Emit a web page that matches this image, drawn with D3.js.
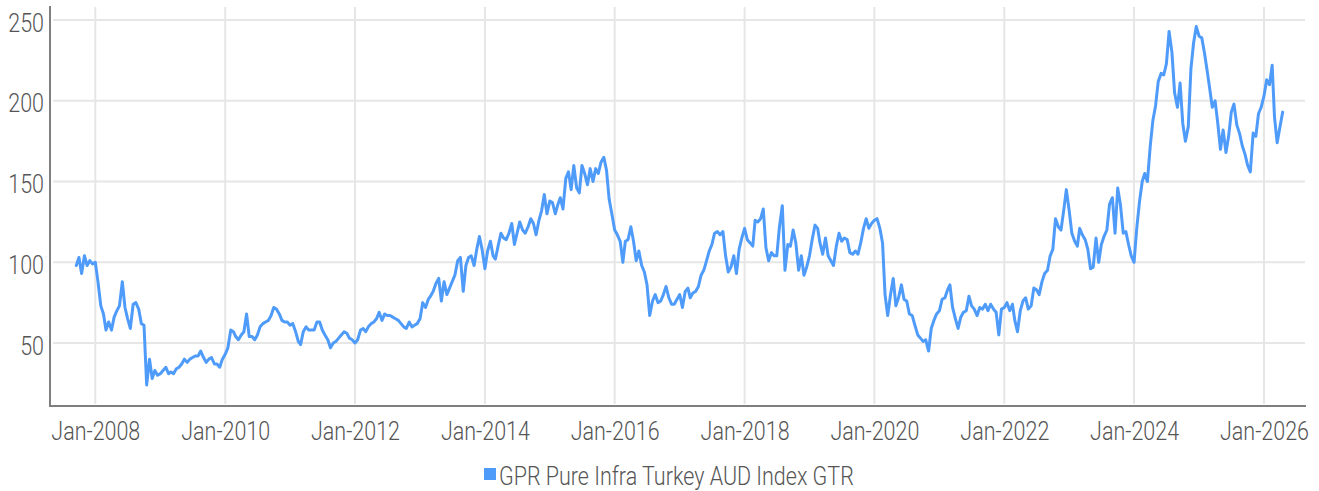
<!DOCTYPE html>
<html>
<head>
<meta charset="utf-8">
<script src="https://cdn.jsdelivr.net/npm/d3@7"></script>
<style>
  html, body { margin: 0; padding: 0; background: #ffffff; }
  svg { display: block; }
  text { font-family: Roboto, "Noto Sans", sans-serif; font-weight: 300; }
</style>
</head>
<body>
<svg id="chart" width="1319" height="491"></svg>
<script>
// ---------- DATA ----------
const seriesName = "GPR Pure Infra Turkey AUD Index GTR";
// first observation (half-monthly observations follow: 1st and 16th of each month)
const firstObservation = "2007-09-16";
const values = [
  98, 103, 93, 104, 98, 101, 99, 100, 88, 73,
  68, 58, 63, 58, 66, 70, 73, 88, 72, 65,
  59, 74, 75, 71, 62, 61, 24, 40, 28, 33,
  30, 31, 33, 35, 31, 32, 31, 34, 35, 37,
  40, 38, 40, 41, 42, 42, 45, 41, 38, 40,
  41, 37, 37, 35, 40, 43, 47, 58, 57, 54,
  52, 55, 57, 68, 54, 54, 52, 55, 60, 62,
  63, 64, 67, 72, 71, 68, 64, 63, 63, 61,
  62, 57, 51, 49, 57, 60, 58, 58, 58, 63,
  63, 58, 55, 52, 47, 50, 51, 53, 55, 57,
  56, 53, 52, 50, 52, 58, 59, 57, 60, 62,
  63, 65, 69, 64, 68, 67, 67, 66, 65, 64,
  62, 60, 59, 63, 60, 61, 62, 65, 75, 72,
  77, 79, 82, 87, 90, 76, 88, 80, 84, 88,
  92, 101, 103, 82, 98, 103, 104, 98, 108, 116,
  108, 96, 107, 113, 104, 102, 110, 118, 115, 114,
  118, 124, 111, 118, 125, 120, 118, 122, 127, 124,
  117, 126, 132, 142, 130, 138, 137, 130, 136, 140,
  133, 152, 156, 145, 160, 146, 143, 160, 155, 148,
  158, 150, 158, 155, 162, 165, 157, 139, 130, 120,
  117, 113, 100, 113, 114, 122, 113, 101, 107, 98,
  94, 86, 67, 76, 80, 75, 76, 80, 85, 78,
  74, 74, 77, 80, 72, 82, 84, 78, 81, 82,
  85, 92, 95, 101, 107, 111, 118, 119, 117, 119,
  104, 94, 97, 104, 93, 108, 115, 121, 114, 112,
  110, 126, 125, 127, 133, 109, 101, 106, 104, 104,
  122, 135, 95, 111, 110, 120, 112, 95, 104, 92,
  97, 104, 114, 123, 121, 112, 105, 115, 104, 101,
  98, 110, 118, 113, 115, 114, 106, 105, 107, 105,
  112, 121, 127, 121, 124, 126, 127, 121, 112, 80,
  67, 80, 90, 73, 78, 86, 77, 76, 68, 67,
  61, 55, 53, 51, 52, 45, 59, 64, 68, 70,
  77, 78, 83, 86, 72, 65, 59, 66, 69, 70,
  79, 73, 71, 67, 72, 71, 74, 70, 74, 71,
  69, 55, 71, 72, 75, 70, 74, 64, 57, 70,
  76, 78, 71, 73, 84, 83, 80, 88, 93, 95,
  104, 108, 127, 122, 120, 132, 145, 132, 118, 113,
  110, 121, 117, 114, 108, 96, 97, 115, 100, 111,
  116, 120, 136, 140, 118, 146, 136, 118, 119, 111,
  104, 100, 121, 138, 150, 155, 150, 172, 188, 197,
  212, 217, 216, 223, 243, 230, 205, 196, 211, 186,
  175, 184, 220, 236, 246, 240, 239, 229, 218, 208,
  196, 200, 186, 170, 182, 168, 178, 193, 198, 185,
  180, 172, 167, 160, 156, 180, 178, 192, 196, 203,
  213, 210, 222, 190, 174, 184, 193
];
const yTickValues = [50, 100, 150, 200, 250];
const xTickYears = [2008, 2010, 2012, 2014, 2016, 2018, 2020, 2022, 2024, 2026];

// ---------- LAYOUT / STYLE ----------
const svg = d3.select("#chart");
const plot = { left: 50, right: 1306, top: 6, bottom: 406 };
const lineColor = "#4f9bfa";
const gridColor = "#e6e6e6";
const axisColor = "#7f7f7f";
const textColor = "#555555";
const fontSize = 25;
const squeeze = 0.86;

const x = d3.scaleTime()
  .domain([new Date(2008, 0, 1), new Date(2026, 0, 1)])
  .range([95.3, 1264]);
const y = d3.scaleLinear()
  .domain([50, 250])
  .range([343, 20.1]);

const start = d3.timeParse("%Y-%m-%d")(firstObservation);
const dates = values.map((v, i) =>
  new Date(start.getFullYear(), start.getMonth() + Math.floor((i + 1) / 2), i % 2 === 0 ? 16 : 1));
const data = values.map((v, i) => ({ date: dates[i], value: v }));
const xTicks = xTickYears.map(yr => new Date(yr, 0, 1));

// gridlines
svg.append("g").selectAll("line.h").data(yTickValues).join("line")
  .attr("x1", plot.left + 3).attr("x2", plot.right - 1)
  .attr("y1", d => y(d)).attr("y2", d => y(d))
  .attr("stroke", gridColor).attr("stroke-width", 2);
svg.append("g").selectAll("line.v").data(xTicks).join("line")
  .attr("x1", d => x(d)).attr("x2", d => x(d))
  .attr("y1", plot.top + 1).attr("y2", plot.bottom - 2)
  .attr("stroke", gridColor).attr("stroke-width", 2);

// axis lines
svg.append("line").attr("x1", plot.left).attr("x2", plot.left)
  .attr("y1", plot.top).attr("y2", plot.bottom + 1)
  .attr("stroke", axisColor).attr("stroke-width", 2);
svg.append("line").attr("x1", plot.left - 1).attr("x2", plot.right)
  .attr("y1", plot.bottom).attr("y2", plot.bottom)
  .attr("stroke", axisColor).attr("stroke-width", 2);

// y axis labels
const yAxis = svg.append("g").attr("transform", `translate(${plot.left},0)`)
  .call(d3.axisLeft(y).tickValues(yTickValues).tickSize(0).tickFormat(d3.format("d")));
yAxis.select(".domain").remove();
yAxis.selectAll("text")
  .attr("x", 0).attr("dy", null).attr("y", 11)
  .attr("transform", `translate(-6,0) scale(${squeeze},1)`)
  .attr("fill", textColor).style("font-size", fontSize + "px")
  .style("font-family", "Roboto, sans-serif").style("font-weight", 300);

// x axis labels
const xAxis = svg.append("g").attr("transform", `translate(0,${plot.bottom})`)
  .call(d3.axisBottom(x).tickValues(xTicks).tickSize(0).tickFormat(d3.timeFormat("Jan-%Y")));
xAxis.select(".domain").remove();
xAxis.selectAll("text")
  .attr("y", 0).attr("dy", null)
  .attr("transform", `translate(0,34) scale(${squeeze},1)`)
  .attr("fill", textColor).style("font-size", fontSize + "px")
  .style("font-family", "Roboto, sans-serif").style("font-weight", 300);

// series line
svg.append("path").datum(data)
  .attr("fill", "none").attr("stroke", lineColor).attr("stroke-width", 3)
  .attr("stroke-linejoin", "round").attr("stroke-linecap", "round")
  .attr("d", d3.line().x(d => x(d.date)).y(d => y(d.value)));

// legend
const legend = svg.append("g").attr("transform", "translate(484,468)");
legend.append("rect").attr("x", 0).attr("y", 0).attr("width", 12).attr("height", 12)
  .attr("fill", lineColor);
legend.append("text").attr("x", 0).attr("y", 0)
  .attr("transform", `translate(15,17) scale(${squeeze},1)`)
  .attr("fill", textColor).style("font-size", fontSize + "px")
  .style("font-family", "Roboto, sans-serif").style("font-weight", 300)
  .text(seriesName);
</script>
</body>
</html>
